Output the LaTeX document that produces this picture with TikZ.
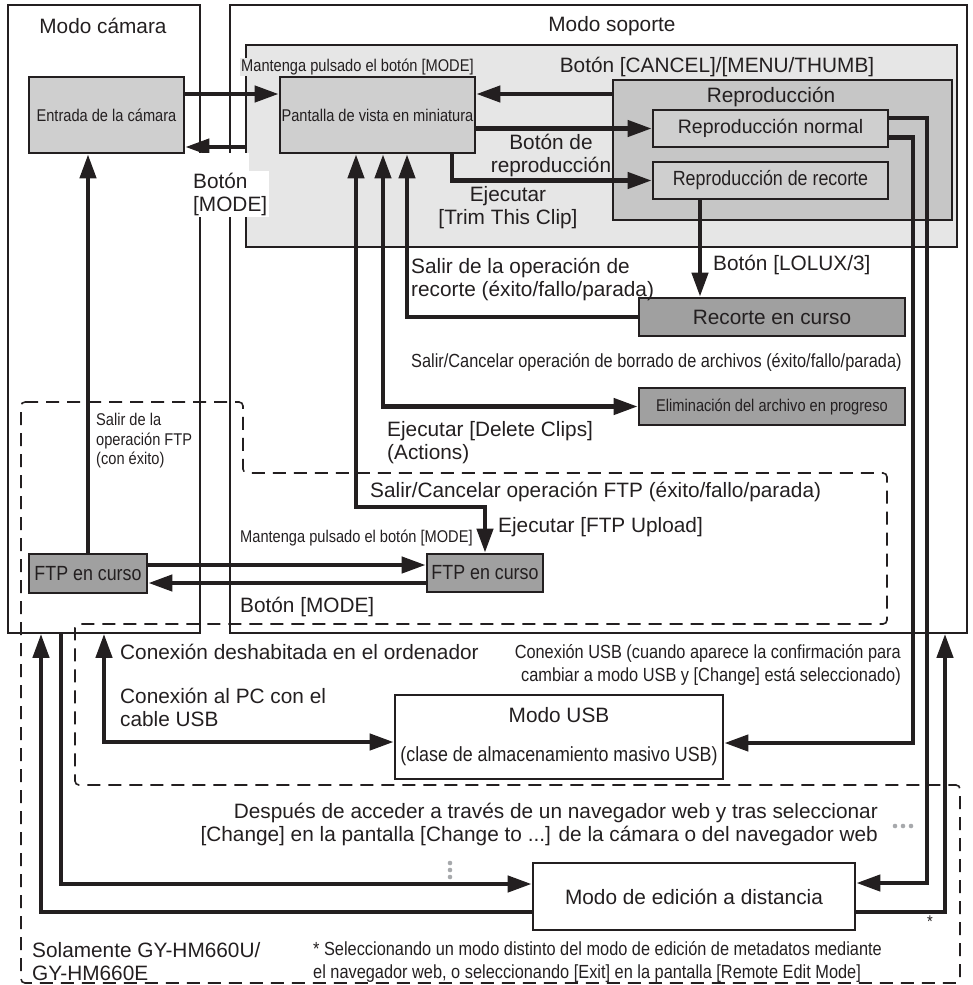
\documentclass[tikz,border=0pt]{standalone}
\usepackage{fontspec}
\setmainfont{Liberation Sans}
\newfontfamily\narrowfont[FakeStretch=0.86]{Liberation Sans}
\newfontfamily\midfont[FakeStretch=0.87]{Liberation Sans}
\usetikzlibrary{arrows.meta}
\definecolor{ink}{HTML}{231F20}
\definecolor{panelgray}{HTML}{E6E6E6}
\definecolor{playgray}{HTML}{C6C6C6}
\definecolor{boxgray}{HTML}{CFCFCF}
\definecolor{busygray}{HTML}{A0A0A0}
\definecolor{dotgray}{HTML}{A7A9AC}
\newcommand{\regfont}{\fontsize{20.8}{23}\selectfont}
\newcommand{\narfont}{\narrowfont\fontsize{17}{19.5}\selectfont}
\newcommand{\wnarfont}{\narrowfont\fontsize{19}{23}\selectfont}
\newcommand{\medfont}{\midfont\fontsize{20.5}{23}\selectfont}

\begin{document}
\begin{tikzpicture}[x=1pt, y=-1pt, color=ink,
    >={Triangle[length=24pt, width=16pt]},
    modebox/.style={draw, line width=1.7pt, inner sep=0pt},
    statebox/.style={draw, line width=2.7pt, fill=boxgray, inner sep=0pt, font=\narfont},
    busybox/.style={statebox, fill=busygray},
    whitebox/.style={draw, line width=2.7pt, fill=white, inner sep=0pt, font=\regfont},
    link/.style={line width=4.3pt},
    txt/.style={inner sep=0pt, font=\regfont},
    ntxt/.style={inner sep=0pt, font=\narfont},
    wtxt/.style={inner sep=0pt, font=\wnarfont},
    onlyzone/.style={line width=1.6pt, dash pattern=on 13pt off 8pt, rounded corners=4pt}]
    \useasboundingbox (0,0) rectangle (973,985);

    \node[modebox, minimum width=192pt, minimum height=628pt] (camara) at (104,319) {};
    \node[modebox, minimum width=737pt, minimum height=628pt] (soporte) at (598.5,319) {};
    \node[modebox, line width=2pt, fill=panelgray, minimum width=711pt, minimum height=202pt] (medios) at (601.5,146) {};
    \node[modebox, line width=2pt, fill=playgray, minimum width=339pt, minimum height=140pt] (reprod) at (782.5,150) {};

    \node[statebox, minimum width=155pt, minimum height=76pt] (entrada) at (106.5,115) {Entrada de la cámara};
    \node[statebox, minimum width=195pt, minimum height=76pt] (miniatura) at (377.5,115) {Pantalla de vista en miniatura};
    \node[statebox, font=\fontsize{19.5}{23}\selectfont, minimum width=235pt, minimum height=37pt] (normal) at (770.5,128.5) {Reproducción normal};
    \node[statebox, font=\medfont, minimum width=235pt, minimum height=37pt] (recortep) at (770.5,180.5) {Reproducción de recorte};
    \node[busybox, font=\regfont, minimum width=266pt, minimum height=38pt] (recorte) at (772,317) {Recorte en curso};
    \node[busybox, minimum width=266pt, minimum height=37pt] (borrado) at (772,406.5) {Eliminación del archivo en progreso};
    \node[busybox, font=\medfont, minimum width=118pt, minimum height=39pt] (ftpcam) at (88,573.5) {FTP en curso};
    \node[busybox, font=\medfont, minimum width=116pt, minimum height=38pt] (ftpmed) at (485,573) {FTP en curso};
    \node[whitebox, minimum width=328pt, minimum height=84pt, align=center] (usb) at (559,737) {Modo USB\\[16pt]{\medfont (clase de almacenamiento masivo USB)}};
    \node[whitebox, minimum width=322pt, minimum height=67pt] (remoto) at (694,896.5) {Modo de edición a distancia};

    \draw[onlyzone] (21,402) -- (243,402) -- (243,473) -- (887,473) -- (887,624) -- (75,624) -- (75,785) -- (960,785) -- (960,983) -- (21,983) -- cycle;

    \draw[link,->] ([yshift=21pt]entrada.east) -- ([yshift=21pt]miniatura.west);
    \coordinate (modeback) at (246,147);
    \draw[link,->] (modeback) -- (modeback -| entrada.east);
    \draw[link,->] ([yshift=56pt]reprod.west) -- ([yshift=21pt]miniatura.east);
    \draw[link,->] (miniatura.east |- normal.west) -- (normal.west);
    \draw[link,->] ([xshift=74.5pt]miniatura.south) |- (recortep.west);
    \draw[link,->] ([xshift=-70.5pt]recortep.south) -- ([xshift=-72pt]recorte.north);
    \draw[link,->] (recorte.west) -| ([xshift=29.5pt]miniatura.south);
    \draw[link,<->] ([xshift=5.5pt]miniatura.south) |- (borrado.west);
    \coordinate (ftpbend) at (485,507);
    \draw[link,<->] ([xshift=-21.5pt]miniatura.south) |- (ftpbend) -- (ftpmed.north);
    \draw[link,->] (ftpcam.north) -- (ftpcam.north |- entrada.south);
    \draw[link,->] ([yshift=8.5pt]ftpcam.east) -- ([yshift=8pt]ftpmed.west);
    \draw[link,->] ([yshift=-10pt]ftpmed.west) -- ([yshift=-9.5pt]ftpcam.east);
    \draw[link,<->] (camara.south) |- ([yshift=-5pt]usb.west);
    \coordinate (usbturn) at (913,743);
    \draw[link,->] ([yshift=-9pt]normal.east) -| (usbturn) -- (usbturn -| usb.east);
    \coordinate (editturn) at (927,883);
    \draw[link,->] ([yshift=10.5pt]normal.east) -| (editturn) -- (editturn -| remoto.east);
    \coordinate (editout) at (945,912);
    \draw[link,->] (editout -| remoto.east) -- (editout) -- (editout |- soporte.south);
    \draw[link,->] ([xshift=-43pt]camara.south) |- ([yshift=12.5pt]remoto.west);
    \coordinate (backcam) at (41,912);
    \draw[link,->] (backcam -| remoto.west) -- (backcam) -- (backcam |- camara.south);

    \node[txt] (modocam) at (103,26) {Modo cámara};
    \node[txt] (modosop) at (612,26) {Modo soporte};
    \node[ntxt, anchor=west, fill=panelgray, inner sep=1pt] (mant1) at (240,67) {Mantenga pulsado el botón [MODE]};
    \node[txt] (cancel) at (717,67) {Botón [CANCEL]/[MENU/THUMB]};
    \node[txt] (reptit) at (771,97) {Reproducción};
    \node[txt, align=center] (playbtn) at (551,155) {Botón de\\reproducción};
    \node[txt, align=center] (trim) at (508,208) {Ejecutar\\{}[Trim This Clip]};
    \fill[white] (190,153) rectangle (249,175);
    \node[txt, align=left, anchor=west, fill=white, inner sep=2pt] (modebtn) at (191,194) {Botón\\{}[MODE]};
    \node[txt, anchor=west] (lolux) at (713,265) {Botón [LOLUX/3]};
    \node[txt, align=left, anchor=west] (salrec) at (411,279) {Salir de la operación de\\recorte (éxito/fallo/parada)};
    \node[wtxt, anchor=west] (salborr) at (411,362) {Salir/Cancelar operación de borrado de archivos (éxito/fallo/parada)};
    \node[txt, align=left, anchor=west] (delclips) at (387,443) {Ejecutar [Delete Clips]\\(Actions)};
    \node[txt, anchor=west] (salftp) at (370,492) {Salir/Cancelar operación FTP (éxito/fallo/parada)};
    \node[txt, anchor=west] (ftpup) at (498,527) {Ejecutar [FTP Upload]};
    \node[ntxt, anchor=west] (mant2) at (240,538) {Mantenga pulsado el botón [MODE]};
    \node[txt, anchor=west] (modebtn2) at (240,607) {Botón [MODE]};
    \node[ntxt, align=left, anchor=west] (ftpok) at (96,441) {Salir de la\\operación FTP\\(con éxito)};
    \node[txt, anchor=west] (deshab) at (120,652) {Conexión deshabitada en el ordenador};
    \node[txt, align=left, anchor=west] (cable) at (120,707) {Conexión al PC con el\\cable USB};
    \node[wtxt, align=right, anchor=east] (usbconf) at (901,665) {Conexión USB (cuando aparece la confirmación para\\cambiar a modo USB y [Change] está seleccionado)};
    \node[txt, align=right, anchor=east] (navweb) at (878,824) {Después de acceder a través de un navegador web y tras seleccionar\\{}[Change] en la pantalla [Change to ...] de la cámara o del navegador web};
    \node[txt, align=left, anchor=west] (solo) at (32,962) {Solamente GY-HM660U/\\GY-HM660E};
    \node[wtxt, align=left, anchor=west] (nota) at (313,962) {* Seleccionando un modo distinto del modo de edición de metadatos mediante\\el navegador web, o seleccionando [Exit] en la pantalla [Remote Edit Mode]};
    \node[ntxt] (ast) at (930,922) {*};

    \foreach \y in {863,870,877} \fill[dotgray] (450,\y) circle (2.3pt);
    \foreach \x in {895,903,911} \fill[dotgray] (\x,826) circle (2.3pt);
\end{tikzpicture}
\end{document}
